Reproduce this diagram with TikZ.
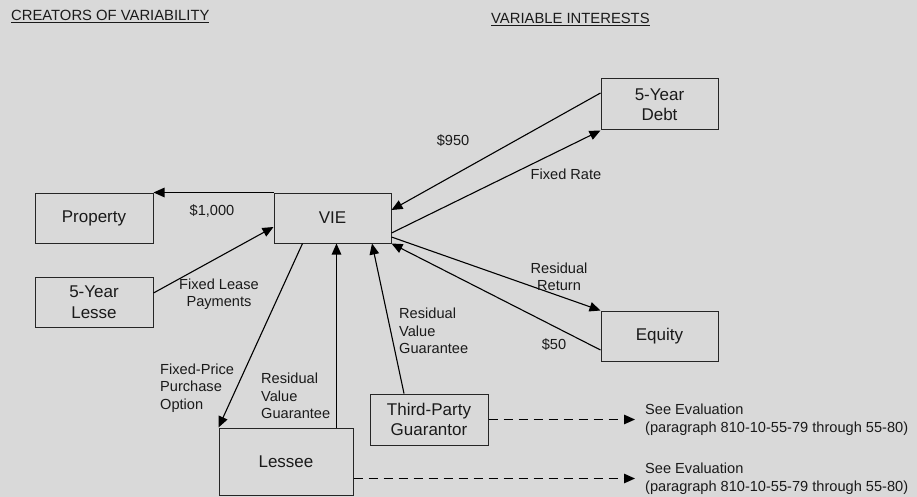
\documentclass[tikz,border=0pt]{standalone}
\usepackage{fontspec}
\setmainfont{Liberation Sans}
\usepackage{xcolor}
\usepackage{tikz}
\usetikzlibrary{
    arrows.meta
}
\definecolor{pagebg}{HTML}{D9D9D9}
\definecolor{boxborder}{HTML}{262626}
\definecolor{inkcolor}{HTML}{1A1A1A}
\tikzset{
    entity/.style={
        rectangle, draw=boxborder, fill=pagebg,
        line width=1pt, minimum width=118pt,
        minimum height=50pt, align=center, inner sep=0pt,
        font=\fontsize{17}{20.5}\selectfont, text=inkcolor
    },
    flow label/.style={
        inner sep=0pt, align=center, text=inkcolor,
        font=\fontsize{14.6}{17.5}\selectfont
    },
    flow label left/.style={
        flow label, align=left, anchor=west
    },
    heading/.style={
        anchor=base west, inner sep=0pt, text=inkcolor,
        font=\fontsize{14.8}{17}\selectfont
    },
    cash flow/.style={
        -{Triangle[length=11pt, width=9.5pt]}, line width=1.1pt, color=black
    },
    eval link/.style={
        cash flow, dash pattern=on 9pt off 6pt
    },
}

\begin{document}
\begin{tikzpicture}[x=1pt, y=-1pt]

    % Page
    \fill[pagebg] (0,0) rectangle (917,497);
    \useasboundingbox (0,0) rectangle (917,497);

    % Headings
    \node[heading] (creators) at (11,21) {\underline{CREATORS OF VARIABILITY}};
    \node[heading] (interests) at (491,24) {\underline{VARIABLE INTERESTS}};

    % Entities
    \node[entity] (property) at (94,218) {Property};
    \node[entity, minimum width=117pt] (vie) at (332.5,218) {VIE};
    \node[entity, minimum width=117pt, minimum height=51pt] (debt) at (659.5,104.5) {5-Year\\Debt};
    \node[entity, minimum width=117pt] (equity) at (659.5,336) {Equity};
    \node[entity] (lesse) at (94,302) {5-Year\\Lesse};
    \node[entity, minimum width=134pt, minimum height=67pt] (lessee) at (286,461.5) {Lessee};
    \node[entity, minimum height=51pt] (guarantor) at (429,419.5) {Third-Party\\Guarantor};

    % Evaluation notes
    \node[flow label left] (evalguarantor) at (645,419.5) {See Evaluation\\(paragraph 810-10-55-79 through 55-80)};
    \node[flow label left] (evallessee) at (645,478.5) {See Evaluation\\(paragraph 810-10-55-79 through 55-80)};

    % Flows
    \draw[cash flow] (vie.north west) -- (property.north east);
    \draw[cash flow] ([yshift=9pt]lesse.east) -- ([yshift=-9pt]vie.west);
    \draw[cash flow] ([yshift=11.5pt]debt.west) -- ([yshift=8pt]vie.east);
    \draw[cash flow] ([yshift=-15pt]vie.east) -- (debt.south west);
    \draw[cash flow] ([yshift=-19pt]vie.east) -- (equity.north west);
    \draw[cash flow] ([yshift=-14pt]equity.west) -- (vie.south east);
    \draw[cash flow] ([xshift=29pt]vie.south west) -- (lessee.north west);
    \draw[cash flow] ([xshift=50.5pt]lessee.north) -- ([xshift=50.5pt]lessee.north |- vie.south);
    \draw[cash flow] ([xshift=-25pt]guarantor.north) -- ([xshift=39.5pt]vie.south);

    % Links to evaluation
    \draw[eval link] (guarantor.east) -- ([xshift=-10pt]evalguarantor.west);
    \draw[eval link] (evallessee.west -| lessee.east) -- ([xshift=-10pt]evallessee.west);

    % Flow labels
    \node[flow label] (lthousand) at (212,211) {\$1,000};
    \node[flow label] (lfixedlease) at (219,294) {Fixed Lease\\Payments};
    \node[flow label] (lninefifty) at (453,141) {\$950};
    \node[flow label] (lfixedrate) at (566,174) {Fixed Rate};
    \node[flow label] (lresidualreturn) at (559,277) {Residual\\Return};
    \node[flow label] (lfifty) at (554,345) {\$50};
    \node[flow label left] (loption) at (160,388) {Fixed-Price\\Purchase\\Option};
    \node[flow label left] (lguaranteelessee) at (261,396) {Residual\\Value\\Guarantee};
    \node[flow label left] (lguaranteethird) at (399,331) {Residual\\Value\\Guarantee};

\end{tikzpicture}
\end{document}
